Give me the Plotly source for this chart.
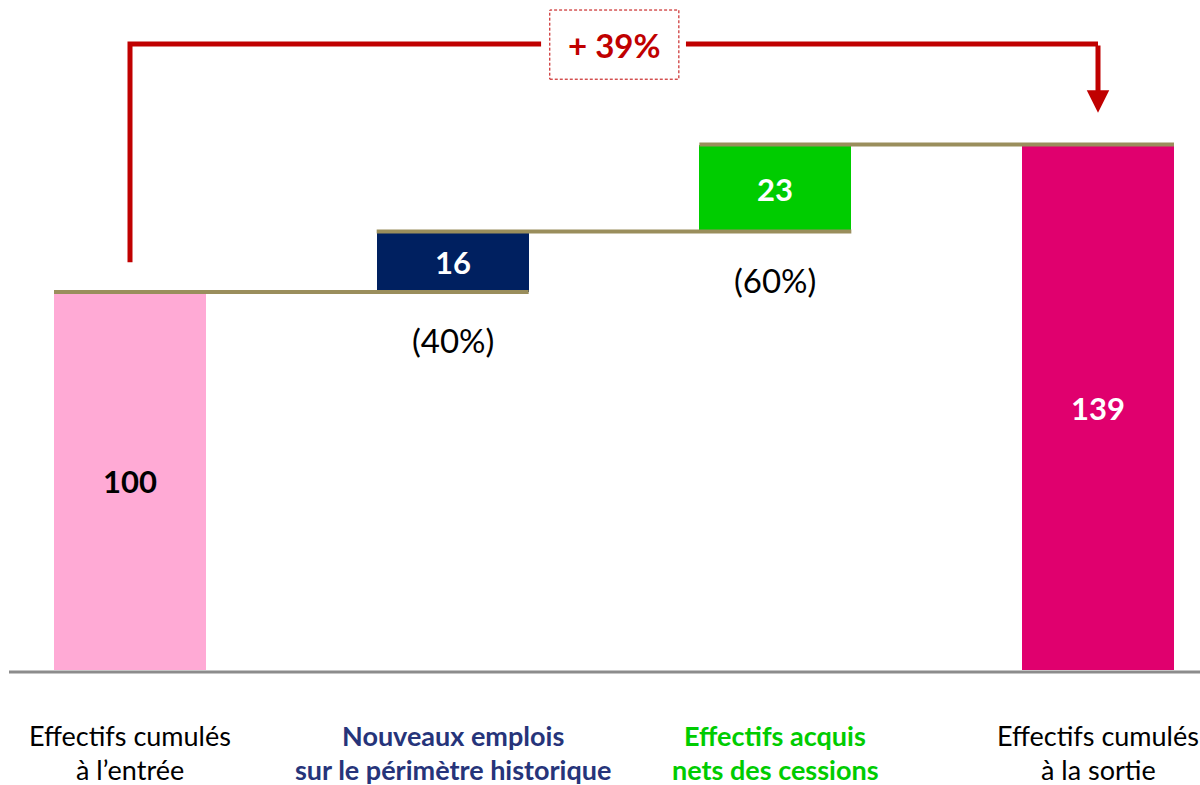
import plotly.graph_objects as go

# data
steps = ["Effectifs cumulés à l'entrée", "Nouveaux emplois", "Effectifs acquis", "Effectifs cumulés à la sortie"]
values = [100, 16, 23, 139]
bases = [0, 100, 116, 0]
shares = ["", "(40%)", "(60%)", ""]
bar_colors = ["#FFAAD5", "#002060", "#00CC00", "#E0006E"]
text_colors = ["#000000", "#FFFFFF", "#FFFFFF", "#FFFFFF"]
label_line1 = ["Effectifs cumulés", "Nouveaux emplois", "Effectifs acquis", "Effectifs cumulés"]
label_line2 = ["à l’entrée", "sur le périmètre historique", "nets des cessions", "à la sortie"]
label_colors = ["#000000", "#26347A", "#00CC00", "#000000"]
label_bold = [False, True, True, False]
growth_label = "+ 39%"

FONT = "Lato"
bar_w = 0.471
xs = list(range(len(values)))

fig = go.Figure()

fig.add_trace(go.Bar(
    x=xs, y=values, base=bases, width=bar_w,
    marker=dict(color=bar_colors, line=dict(width=0)),
    text=[f"<b>{v}</b>" for v in values],
    textposition="inside", insidetextanchor="middle", textangle=0,
    textfont=dict(family=FONT, size=31, color=text_colors),
    hoverinfo="skip", showlegend=False,
))

# connector lines between bars
for i in range(len(values) - 1):
    level = bases[i] + values[i]
    fig.add_trace(go.Scatter(
        x=[i - bar_w / 2, i + 1 + bar_w / 2], y=[level, level],
        mode="lines", line=dict(color="#9A8E5C", width=4),
        hoverinfo="skip", showlegend=False,
    ))

# share labels below the increment bars
for i, s in enumerate(shares):
    if s:
        fig.add_annotation(x=i, y=bases[i] - 12.8, text=s, showarrow=False,
                           font=dict(family=FONT, size=33, color="#000000"))

# category labels
for i in xs:
    t1, t2 = label_line1[i], label_line2[i]
    if label_bold[i]:
        t1, t2 = f"<b>{t1}</b>", f"<b>{t2}</b>"
    for t, yy in ((t1, -17.2), (t2, -26.3)):
        fig.add_annotation(x=i, y=yy, text=t, showarrow=False,
                           font=dict(family=FONT, size=27, color=label_colors[i]))

# baseline
fig.add_shape(type="line", x0=-0.375, x1=3.4, y0=-0.5, y1=-0.5,
              line=dict(color="#8C8C8C", width=3))

# growth bracket
red = "#C00000"
top = values[-1] + 26.6
start = values[0] + 7.9
gap_l, gap_r = 1.274, 1.723
fig.add_trace(go.Scatter(
    x=[0, 0, gap_l, None, gap_r, 3], y=[start, top, top, None, top, top],
    mode="lines", line=dict(color=red, width=5),
    hoverinfo="skip", showlegend=False,
))
fig.add_annotation(x=3, y=values[-1] + 8.4, ax=3, ay=top, xref="x", yref="y",
                   axref="x", ayref="y", showarrow=True, arrowhead=2,
                   arrowsize=0.9, arrowwidth=5, arrowcolor=red, text="")
fig.add_shape(type="rect", x0=1.301, x1=1.701, y0=156.3, y1=174.6,
              line=dict(color=red, width=1, dash="3px,2px"))
fig.add_annotation(x=1.5, y=165.3, text=f"<b>{growth_label}</b>", showarrow=False,
                   font=dict(family=FONT, size=33, color=red))

fig.update_xaxes(range=[-0.4029, 3.3161], visible=False, fixedrange=True)
fig.update_yaxes(range=[-30.42, 177.25], visible=False, fixedrange=True)
fig.update_layout(
    width=1200, height=785,
    margin=dict(l=0, r=0, t=0, b=0),
    plot_bgcolor="white", paper_bgcolor="white",
    bargap=0, uniformtext=dict(mode=False),
)

# drop the default page margin so the figure sits at the window origin
fig.write_html("out.html", config={"displayModeBar": False},
               post_script="document.body.style.margin='0';"
               "document.body.style.overflow='hidden';")
